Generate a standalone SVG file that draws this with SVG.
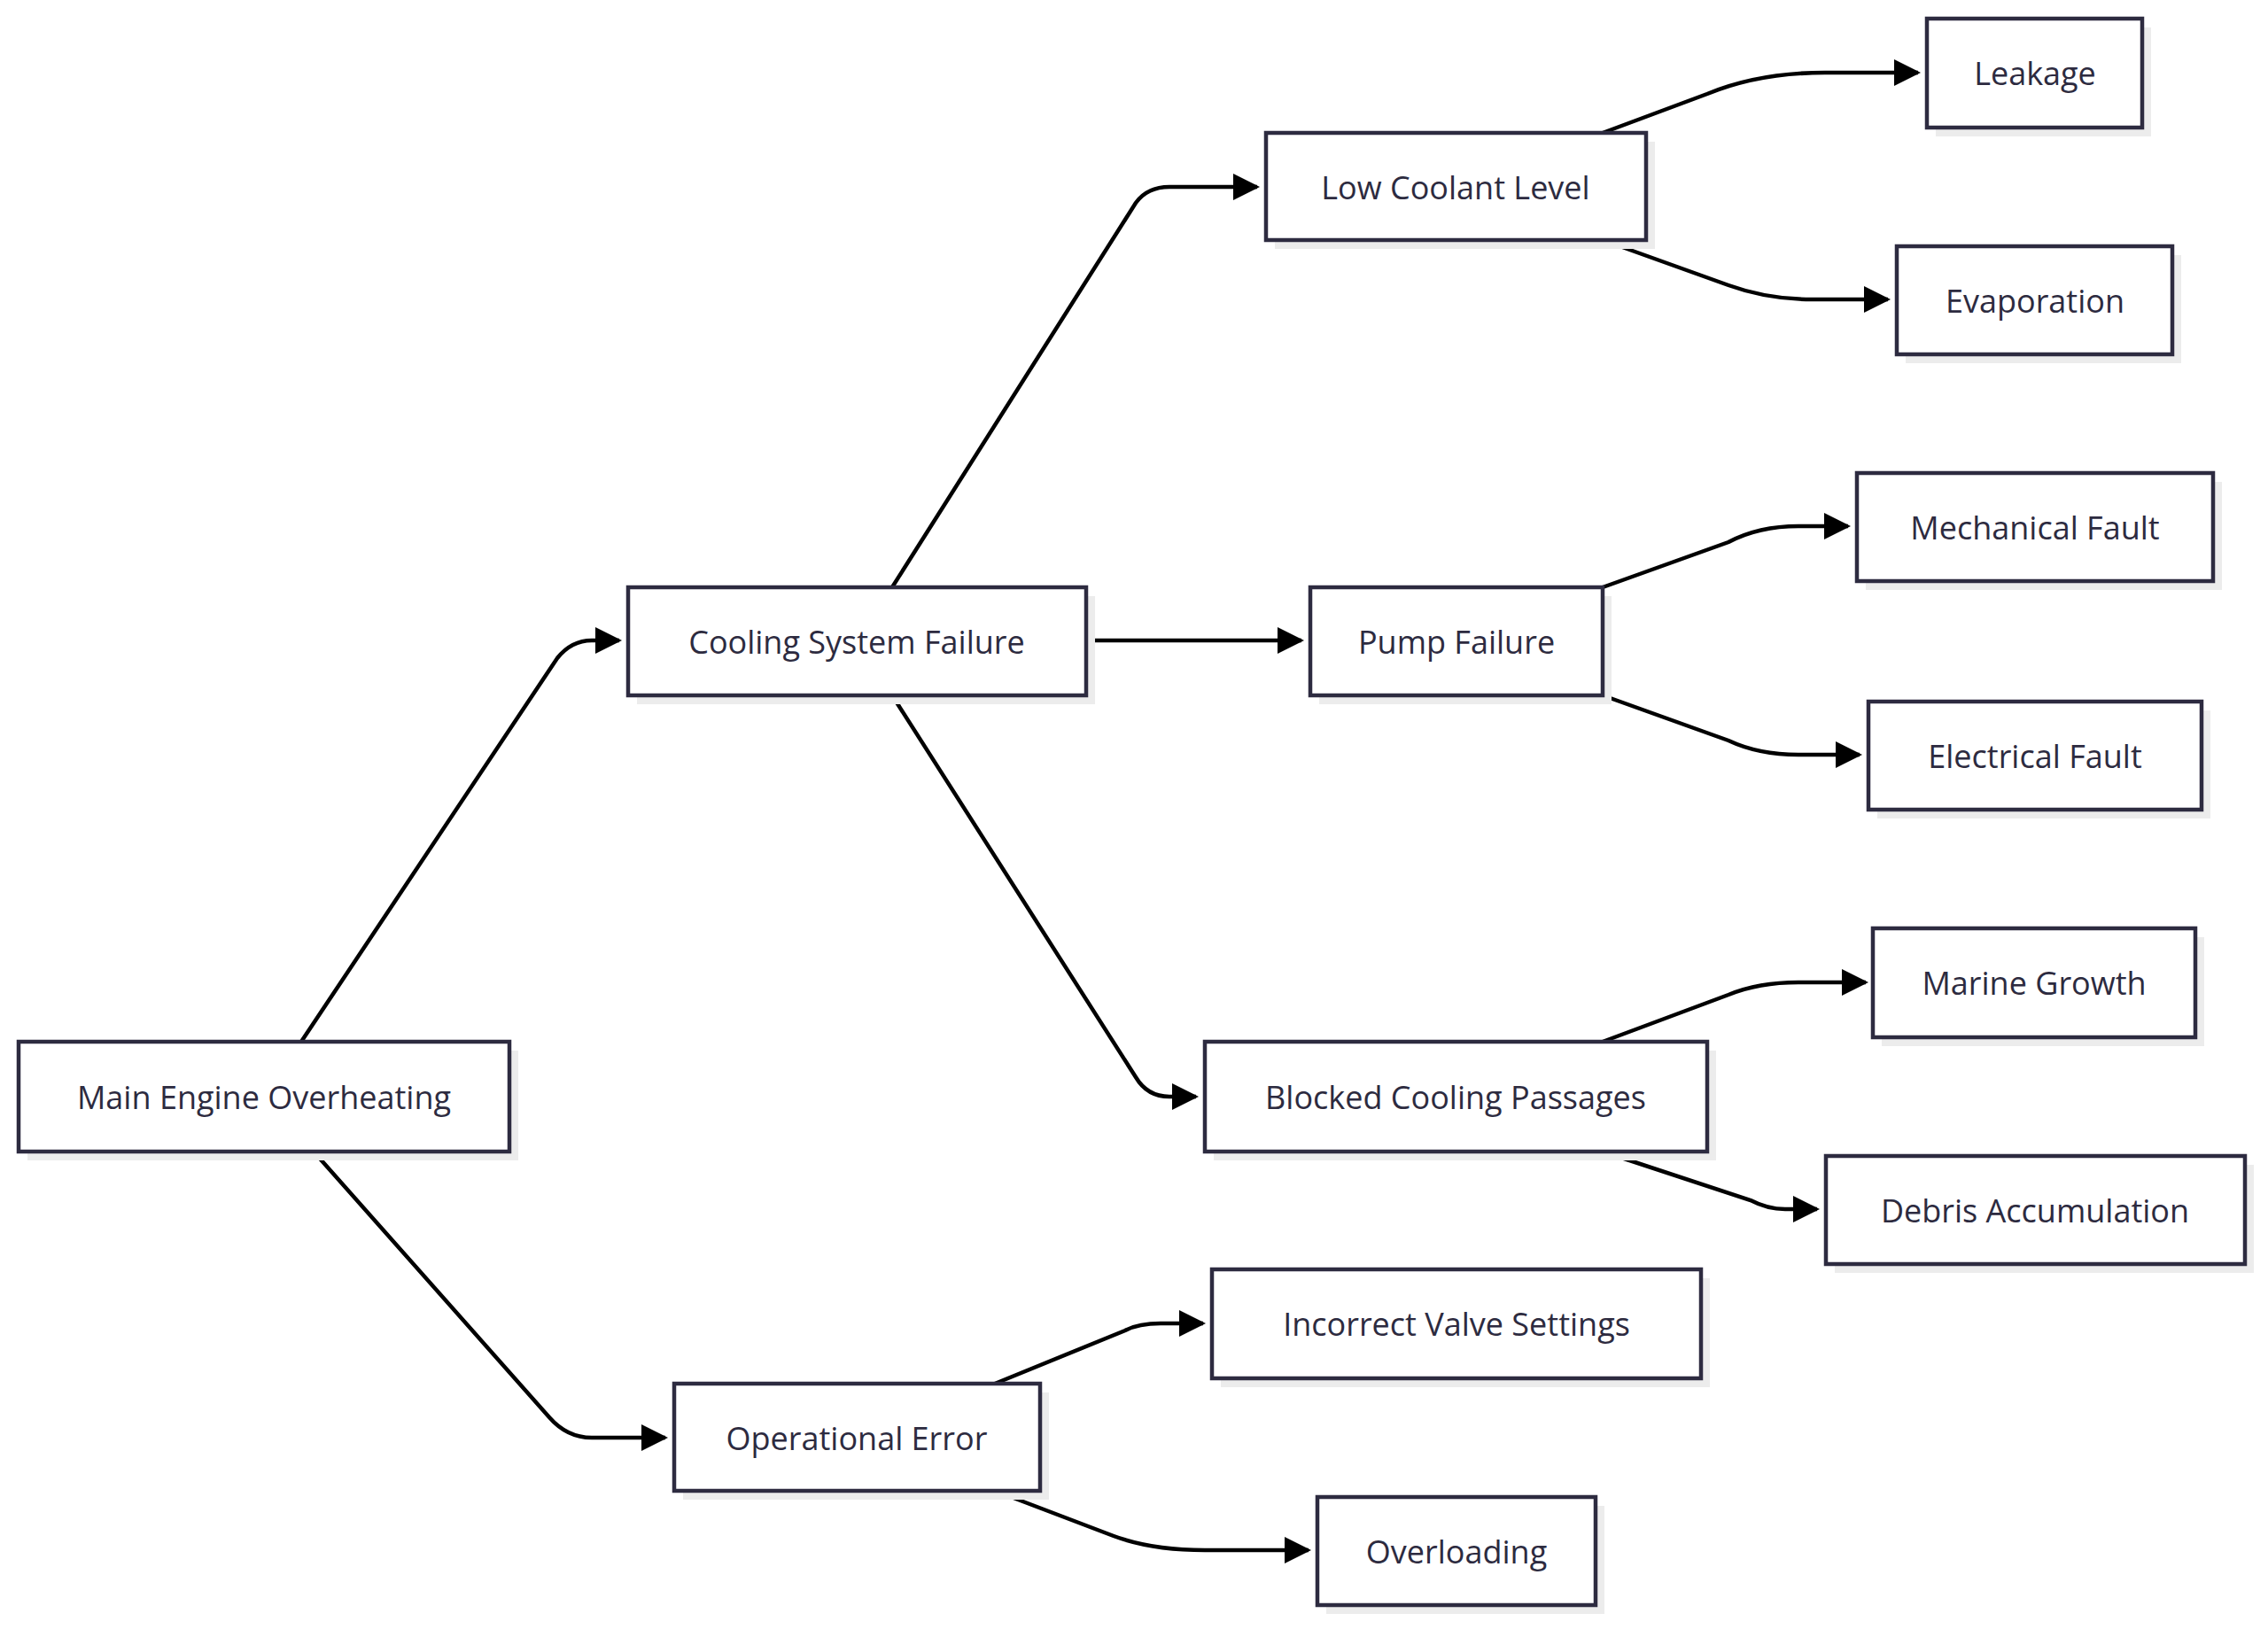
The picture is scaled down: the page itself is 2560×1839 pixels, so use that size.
<svg xmlns="http://www.w3.org/2000/svg" width="2560" height="1839" viewBox="0 0 2560 1839">
<style>
.n rect.s{fill:#ececec}
.n rect.b{fill:#fff;stroke:#2d2b40;stroke-width:4.5}
.n text{font-family:"Open Sans","DejaVu Sans",sans-serif;font-size:36px;fill:#2d2b40;text-anchor:middle;dominant-baseline:central}
#edges path{fill:none;stroke:#000;stroke-width:4.5}
</style>
<defs>
<marker id="a" markerUnits="userSpaceOnUse" viewBox="0 0 10 10" refX="9" refY="5" markerWidth="30" markerHeight="30" orient="auto"><path d="M0,0L10,5L0,10z" fill="#000"/></marker>
</defs>
<rect width="2560" height="1839" fill="#fff"/>
<g id="edges">
<path d="M340,1176L629,743Q645,723 668,723L699,723" marker-end="url(#a)"/>
<path d="M354,1300L620,1600Q640,1623 668,1623L751,1623" marker-end="url(#a)"/>
<path d="M1007,663L1282,229Q1295,211 1320,211L1419,211" marker-end="url(#a)"/>
<path d="M1226,723L1469,723" marker-end="url(#a)"/>
<path d="M1007,785L1282,1216Q1295,1238 1320,1238L1350,1238" marker-end="url(#a)"/>
<path d="M1809,150L1927,106Q1985,82 2060,82L2165,82" marker-end="url(#a)"/>
<path d="M1809,271L1951,322Q1995,338 2045,338L2131,338" marker-end="url(#a)"/>
<path d="M1809,663L1951,612Q1985,594 2030,594L2086,594" marker-end="url(#a)"/>
<path d="M1809,785L1951,836Q1985,852 2030,852L2099,852" marker-end="url(#a)"/>
<path d="M1809,1176L1951,1123Q1985,1109 2030,1109L2106,1109" marker-end="url(#a)"/>
<path d="M1809,1300L1976,1355Q1995,1365 2015,1365L2051,1365" marker-end="url(#a)"/>
<path d="M1123,1562L1270,1502Q1285,1494 1310,1494L1358,1494" marker-end="url(#a)"/>
<path d="M1123,1683L1257,1734Q1300,1750 1360,1750L1477,1750" marker-end="url(#a)"/>
</g>
<g id="n_main" class="n"><rect class="s" x="31" y="1186" width="554" height="124"/><rect class="b" x="21" y="1176" width="554" height="124"/><text x="298" y="1238">Main Engine Overheating</text></g>
<g id="n_cool" class="n"><rect class="s" x="719" y="673" width="517" height="122"/><rect class="b" x="709" y="663" width="517" height="122"/><text x="967" y="724">Cooling System Failure</text></g>
<g id="n_oper" class="n"><rect class="s" x="771" y="1572" width="413" height="121"/><rect class="b" x="761" y="1562" width="413" height="121"/><text x="967" y="1623">Operational Error</text></g>
<g id="n_low" class="n"><rect class="s" x="1439" y="160" width="429" height="121"/><rect class="b" x="1429" y="150" width="429" height="121"/><text x="1643" y="211">Low Coolant Level</text></g>
<g id="n_pump" class="n"><rect class="s" x="1489" y="673" width="330" height="122"/><rect class="b" x="1479" y="663" width="330" height="122"/><text x="1644" y="724">Pump Failure</text></g>
<g id="n_block" class="n"><rect class="s" x="1370" y="1186" width="567" height="124"/><rect class="b" x="1360" y="1176" width="567" height="124"/><text x="1643" y="1238">Blocked Cooling Passages</text></g>
<g id="n_valve" class="n"><rect class="s" x="1378" y="1443" width="552" height="123"/><rect class="b" x="1368" y="1433" width="552" height="123"/><text x="1644" y="1494">Incorrect Valve Settings</text></g>
<g id="n_over" class="n"><rect class="s" x="1497" y="1700" width="314" height="122"/><rect class="b" x="1487" y="1690" width="314" height="122"/><text x="1644" y="1751">Overloading</text></g>
<g id="n_leak" class="n"><rect class="s" x="2185" y="31" width="243" height="123"/><rect class="b" x="2175" y="21" width="243" height="123"/><text x="2297" y="82">Leakage</text></g>
<g id="n_evap" class="n"><rect class="s" x="2151" y="288" width="311" height="122"/><rect class="b" x="2141" y="278" width="311" height="122"/><text x="2297" y="339">Evaporation</text></g>
<g id="n_mech" class="n"><rect class="s" x="2106" y="544" width="402" height="122"/><rect class="b" x="2096" y="534" width="402" height="122"/><text x="2297" y="595">Mechanical Fault</text></g>
<g id="n_elec" class="n"><rect class="s" x="2119" y="802" width="376" height="122"/><rect class="b" x="2109" y="792" width="376" height="122"/><text x="2297" y="853">Electrical Fault</text></g>
<g id="n_marine" class="n"><rect class="s" x="2124" y="1058" width="364" height="123"/><rect class="b" x="2114" y="1048" width="364" height="123"/><text x="2296" y="1109">Marine Growth</text></g>
<g id="n_debris" class="n"><rect class="s" x="2071" y="1315" width="473" height="122"/><rect class="b" x="2061" y="1305" width="473" height="122"/><text x="2297" y="1366">Debris Accumulation</text></g>
</svg>
